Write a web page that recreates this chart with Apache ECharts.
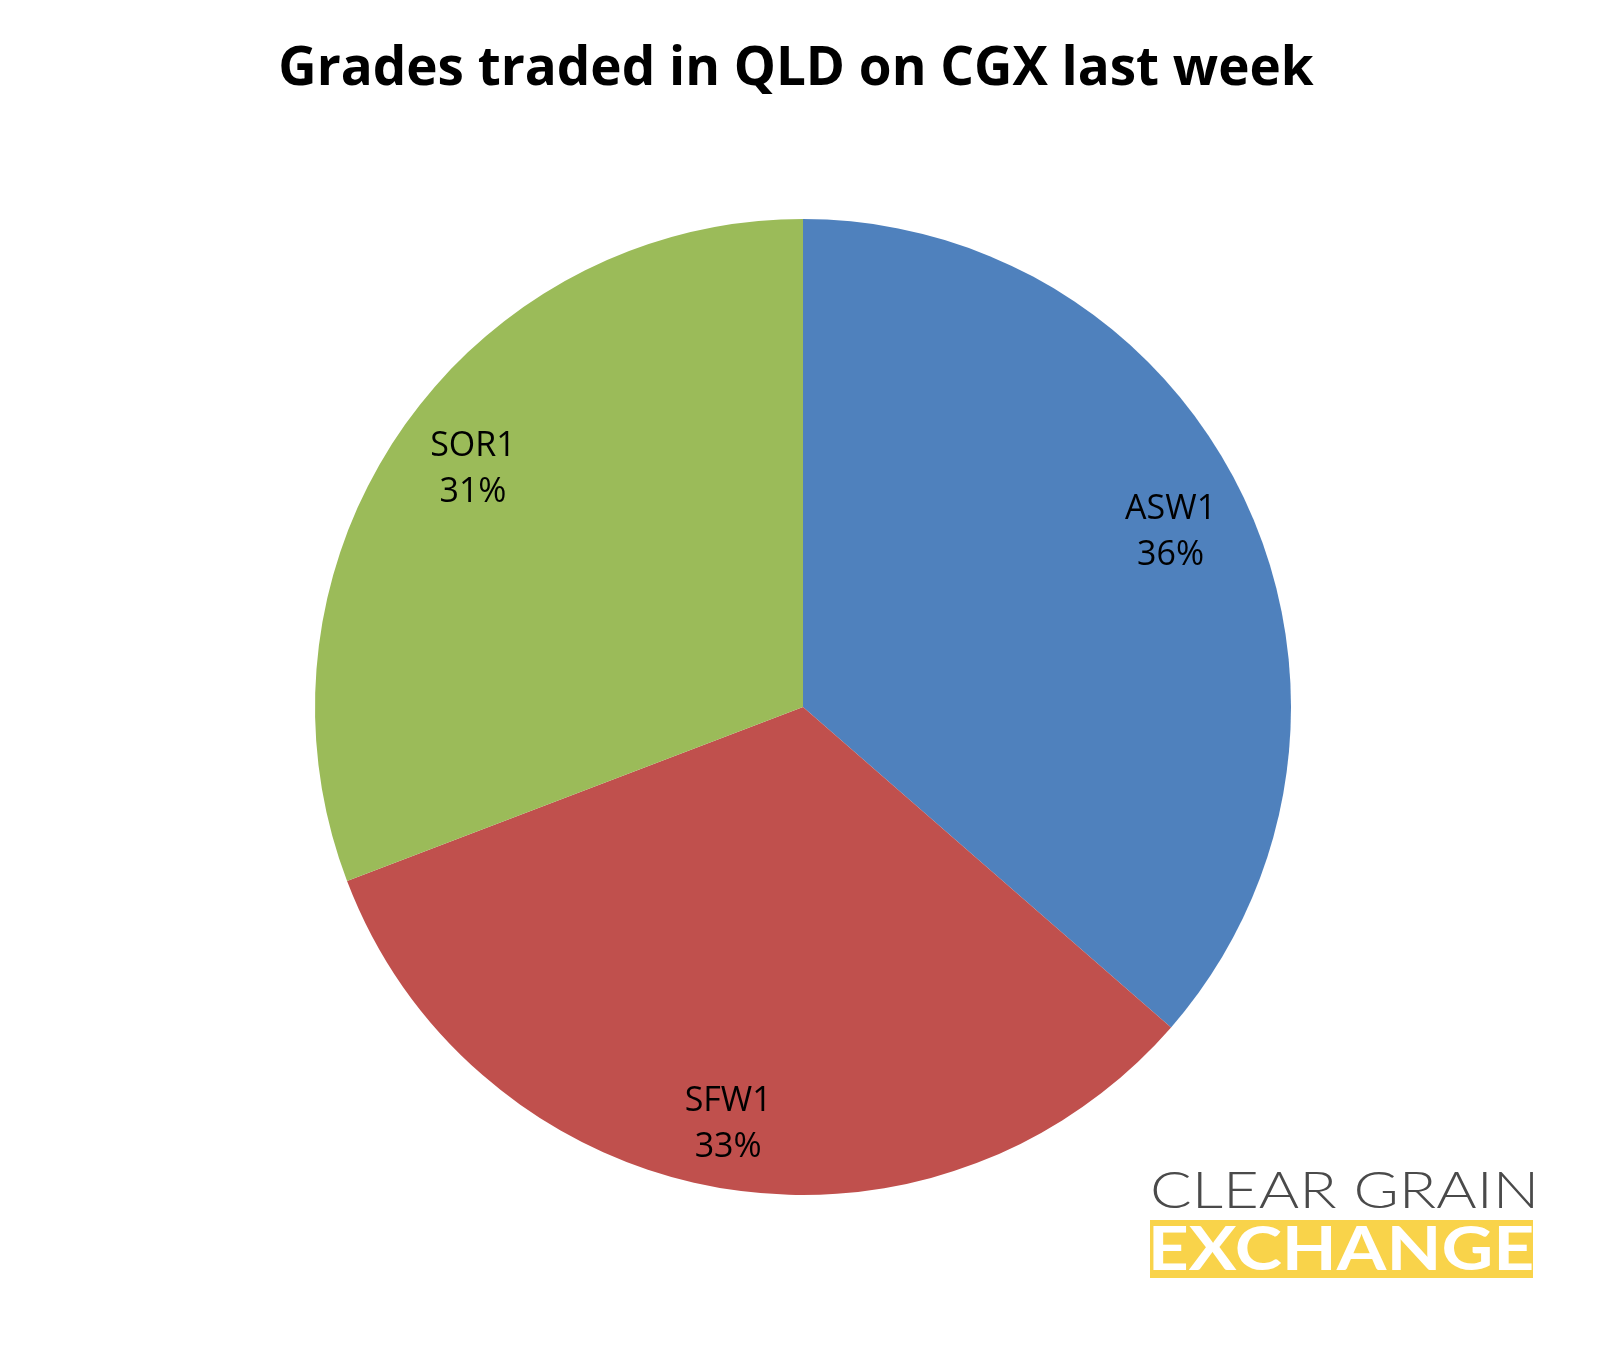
<!DOCTYPE html>
<html>
<head>
<meta charset="utf-8">
<script src="https://cdn.jsdelivr.net/npm/echarts@6/dist/echarts.min.js"></script>
<style>html,body{margin:0;padding:0;background:#fff;}#chart{width:1608px;height:1351px;}</style>
</head>
<body>
<div id="chart"></div>
<script>
const categories = ['ASW1', 'SFW1', 'SOR1'];
const values = [36.4, 32.8, 30.8];
const colors = ['#4F81BD', '#C0504D', '#9BBB59'];
const labelNudge = [[-6, -5], [-3, 13], [8, -5]];

const pieData = categories.map((c, i) => ({ name: c, value: values[i], itemStyle: { color: colors[i] } }));
const chart = echarts.init(document.getElementById('chart'), null, { renderer: 'canvas' });
const center = [803, 707];
const R = 488;
chart.setOption({
  backgroundColor: '#ffffff',
  animation: false,
  title: {
    text: 'Grades traded in QLD on CGX last week',
    left: 791, top: 38, textAlign: 'center',
    textStyle: { fontFamily: 'Open Sans', fontWeight: 'bold', fontSize: 53, color: '#000' }
  },
  series: [
    {
      type: 'pie', center: center, radius: [0, R], startAngle: 90, clockwise: true,
      silent: true, data: pieData, label: { show: false }, labelLine: { show: false },
      itemStyle: { borderWidth: 0 }
    },
    {
      type: 'pie', center: center, radius: [R * 0.67, R], startAngle: 90, clockwise: true,
      silent: true, data: categories.map((c, i) => ({ name: c, value: values[i] })),
      itemStyle: { color: 'rgba(0,0,0,0)', borderWidth: 0 },
      labelLine: { show: false },
      labelLayout: p => ({ dx: labelNudge[p.dataIndex][0], dy: labelNudge[p.dataIndex][1] }),
      label: {
        show: true, position: 'inside', color: '#000', fontFamily: 'Open Sans', fontSize: 34, lineHeight: 46,
        formatter: p => p.name + '\n' + Math.round(p.percent) + '%'
      }
    }
  ],
  graphic: [
    { type: 'text', x: 1150, y: 1166, scaleX: 1.21, style: { text: 'CLEAR GRAIN', font: '300 51px Lato', fill: '#4a4a4a', verticalAlign: 'top' } },
    { type: 'rect', shape: { x: 1150, y: 1220, width: 383, height: 58 }, style: { fill: '#F9D34A' } },
    { type: 'text', x: 1341, y: 1250, scaleX: 1.17, style: { text: 'EXCHANGE', font: 'bold 61px Lato', fill: '#ffffff', align: 'center', verticalAlign: 'middle' } }
  ]
});
</script>
</body>
</html>
